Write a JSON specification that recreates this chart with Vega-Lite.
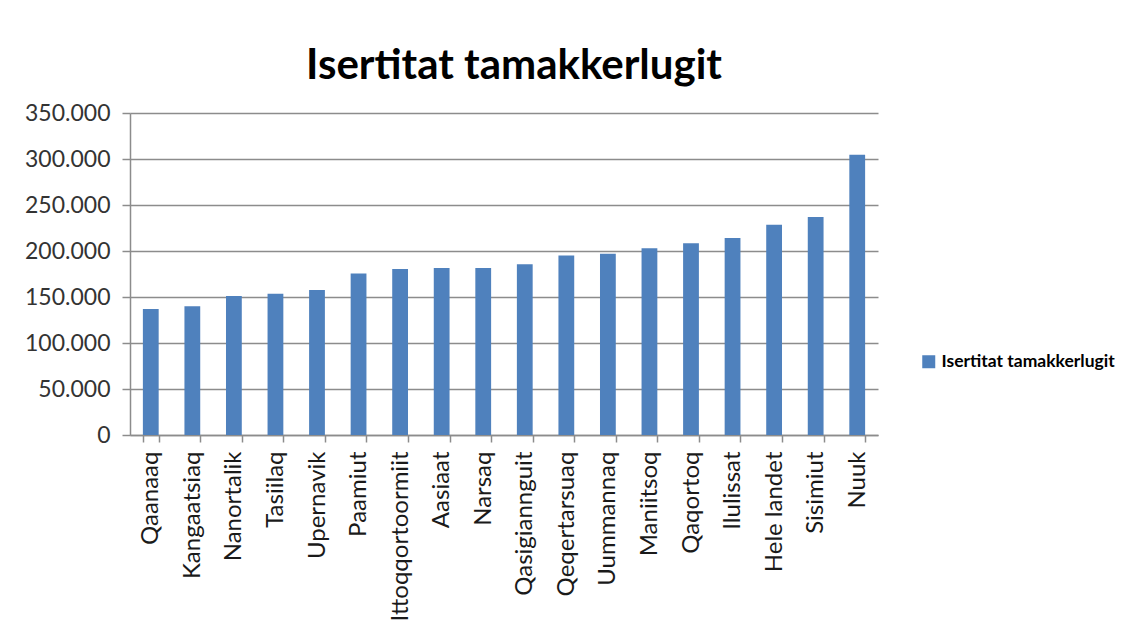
{
  "$schema": "https://vega.github.io/schema/vega-lite/v6.json",
  "autosize": {"type": "none"},
  "width": 748,
  "height": 322,
  "padding": {"left": 130, "top": 113, "right": 243, "bottom": 204},
  "background": "white",
  "title": {
    "text": "Isertitat tamakkerlugit",
    "font": "Lato",
    "fontSize": 42,
    "fontWeight": "bold",
    "color": "#000000",
    "anchor": "middle",
    "frame": "group",
    "dx": 10,
    "offset": 14
  },
  "data": {
    "values": [
      {"by": "Qaanaaq", "value": 137000},
      {"by": "Kangaatsiaq", "value": 140000},
      {"by": "Nanortalik", "value": 151000},
      {"by": "Tasiilaq", "value": 153500},
      {"by": "Upernavik", "value": 157500},
      {"by": "Paamiut", "value": 175500},
      {"by": "Ittoqqortoormiit", "value": 180500},
      {"by": "Aasiaat", "value": 181500},
      {"by": "Narsaq", "value": 181500},
      {"by": "Qasigiannguit", "value": 185500},
      {"by": "Qeqertarsuaq", "value": 195000},
      {"by": "Uummannaq", "value": 197000},
      {"by": "Maniitsoq", "value": 203000},
      {"by": "Qaqortoq", "value": 208500},
      {"by": "Ilulissat", "value": 214000},
      {"by": "Hele landet", "value": 228500},
      {"by": "Sisimiut", "value": 237000},
      {"by": "Nuuk", "value": 304500}
    ]
  },
  "mark": {"type": "bar", "color": "#4f81bd"},
  "encoding": {
    "x": {
      "field": "by",
      "type": "nominal",
      "sort": null,
      "scale": {"paddingInner": 0.62, "paddingOuter": 0.31},
      "axis": {
        "title": null,
        "labelAngle": -90,
        "labelFont": "Lato",
        "labelFontSize": 24,
        "labelColor": "#1a1a1a",
        "labelPadding": 9,
        "tickBand": "extent",
        "tickSize": 7,
        "tickColor": "#8c8c8c",
        "domainColor": "#8c8c8c",
        "domainWidth": 1.5,
        "tickWidth": 1.5
      }
    },
    "y": {
      "field": "value",
      "type": "quantitative",
      "scale": {"domain": [0, 350000], "nice": false},
      "axis": {
        "title": null,
        "values": [0, 50000, 100000, 150000, 200000, 250000, 300000, 350000],
        "labelExpr": "replace(format(datum.value, ','), ',', '.')",
        "labelFont": "Lato",
        "labelFontSize": 23,
        "labelColor": "#333333",
        "labelPadding": 12,
        "tickSize": 8,
        "tickColor": "#8c8c8c",
        "tickWidth": 1.5,
        "domainColor": "#8c8c8c",
        "domainWidth": 1.5,
        "gridColor": "#8c8c8c",
        "gridWidth": 1.5
      }
    },
    "color": {
      "datum": "Isertitat tamakkerlugit",
      "type": "nominal",
      "scale": {"range": ["#4f81bd"]},
      "legend": {
        "title": null,
        "orient": "none",
        "legendX": 790,
        "legendY": 240,
        "symbolType": "square",
        "symbolSize": 169,
        "symbolStrokeWidth": 0,
        "labelFont": "Lato",
        "labelFontSize": 17.5,
        "labelFontWeight": "bold",
        "labelColor": "#000000",
        "labelLimit": 300
      }
    }
  },
  "config": {
    "view": {"stroke": null}
  }
}
